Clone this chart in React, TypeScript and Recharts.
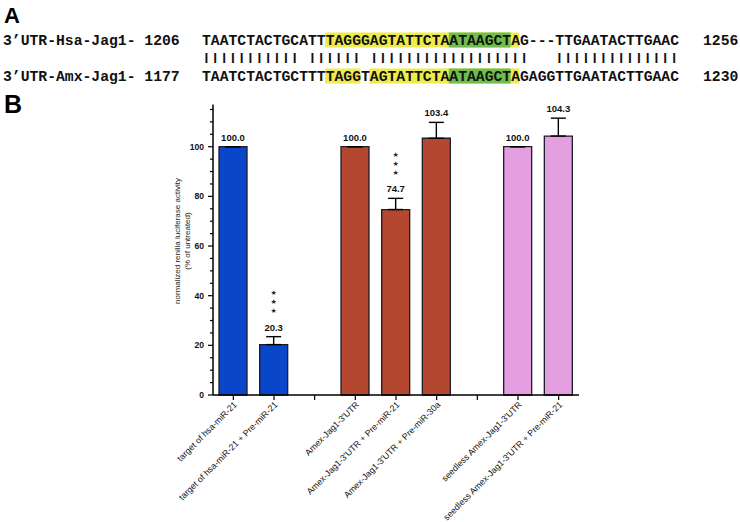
import React from 'react';
import { BarChart, Bar, XAxis, YAxis, ErrorBar, Cell, LabelList } from 'recharts';

// ---------- Panel A (sequence alignment) ----------
const hsaLabel = '3\u2019UTR-Hsa-Jag1- 1206';
const hsaSeq = 'TAATCTACTGCATTTAGGGAGTATTCTAATAAGCTAG---TTGAATACTTGAAC';
const hsaEnd = '1256';
const amxLabel = '3\u2019UTR-Amx-Jag1- 1177';
const amxSeq = 'TAATCTACTGCTTTTAGGTAGTATTCTAATAAGCTAGAGGTTGAATACTTGAAC';
const amxEnd = '1230';
const hsaYellow = [[14, 35]];
const hsaGreen = [[28, 34]];
const amxYellow = [[14, 17], [19, 35]];
const amxGreen = [[28, 34]];

// ---------- Panel B (bar chart) ----------
const categories = [
  'target of hsa-miR-21',
  'target of hsa-miR-21 + Pre-miR-21',
  '',
  "Amex-Jag1-3'UTR",
  "Amex-Jag1-3'UTR + Pre-miR-21",
  "Amex-Jag1-3'UTR + Pre-miR-30a",
  ' ',
  "seedless Amex-Jag1-3'UTR",
  "seedless Amex-Jag1-3'UTR + Pre-miR-21",
];
const activity: (number | null)[] = [100.0, 20.3, null, 100.0, 74.7, 103.4, null, 100.0, 104.3];
const upperError: (number | null)[] = [0, 3.2, null, 0, 4.5, 6.4, null, 0, 7.2];
const significance = ['', '***', '', '', '***', '', '', '', ''];
const barColors = ['#0a46c9', '#0a46c9', '#ffffff', '#b4472f', '#b4472f', '#b4472f', '#ffffff', '#e49fe0', '#e49fe0'];
const yTicks = [0, 5, 10, 15, 20, 25, 30, 35, 40, 45, 50, 55, 60, 65, 70, 75, 80, 85, 90, 95, 100, 105, 110, 115];
const yMajor = [0, 20, 40, 60, 80, 100];

const rows = categories.map((name, i) => ({
  name,
  value: activity[i],
  err: upperError[i] == null ? null : [0, upperError[i] as number],
  idx: i,
}));

const SANS = 'Liberation Sans, Arial, Helvetica, sans-serif';
const MONO = 'Liberation Mono, Courier New, monospace';
const CW = 8.83; // monospace advance at the chosen font size
const SEQ_X = 202;

const matchLine = hsaSeq
  .split('')
  .map((c, i) => (c !== '-' && c === amxSeq[i] ? '|' : ' '))
  .join('');

const HighlightRow = ({ ranges, color, top }: { ranges: number[][]; color: string; top: number }) => (
  <>
    {ranges.map(([a, b], k) => (
      <rect key={k} x={SEQ_X + a * CW - 0.5} y={top} width={(b - a + 1) * CW} height={15} fill={color} />
    ))}
  </>
);

const PanelA = () => (
  <svg width={740} height={522} style={{ position: 'absolute', left: 0, top: 0, pointerEvents: 'none' }}>
    <text x={4} y={23} fontFamily={SANS} fontWeight="bold" fontSize={22} fill="#000">A</text>
    <text x={4} y={113} fontFamily={SANS} fontWeight="bold" fontSize={25} fill="#000">B</text>
    <HighlightRow ranges={hsaYellow} color="#eeeb4e" top={32.5} />
    <HighlightRow ranges={hsaGreen} color="#6fbd4b" top={32.5} />
    <HighlightRow ranges={amxYellow} color="#eeeb4e" top={68.5} />
    <HighlightRow ranges={amxGreen} color="#6fbd4b" top={68.5} />
    <g fontFamily={MONO} fontSize={14.72} fontWeight="bold" fill="#111" style={{ whiteSpace: 'pre' }}>
      <text x={3} y={45} xmlSpace="preserve">{hsaLabel}</text>
      <text x={SEQ_X} y={45} xmlSpace="preserve">{hsaSeq}</text>
      <text x={703} y={45} xmlSpace="preserve">{hsaEnd}</text>
      <text transform={`translate(${SEQ_X},61) scale(1,0.72)`} xmlSpace="preserve">{matchLine}</text>
      <text x={3} y={81} xmlSpace="preserve">{amxLabel}</text>
      <text x={SEQ_X} y={81} xmlSpace="preserve">{amxSeq}</text>
      <text x={703} y={81} xmlSpace="preserve">{amxEnd}</text>
    </g>
  </svg>
);

const YTick = (props: any) => {
  const { x, y, payload } = props;
  const v = payload.value as number;
  const major = yMajor.includes(v);
  return (
    <g>
      <line x1={x - (major ? 5 : 3)} y1={y} x2={x} y2={y} stroke="#000" strokeWidth={1.2} />
      {major && (
        <text x={x - 9} y={y} dy="0.35em" textAnchor="end" fontFamily={SANS} fontWeight="bold" fontSize={8.6} fill="#111">
          {v}
        </text>
      )}
    </g>
  );
};

const XTick = (props: any) => {
  const { x, y, payload } = props;
  const label = String(payload.value).trim();
  if (!label) return null;
  return (
    <g transform={`translate(${x + 2},${y + 1})`}>
      <text transform="rotate(-45)" textAnchor="end" dy="0.35em" fontFamily={SANS} fontSize={8.8} fill="#111">
        {label}
      </text>
    </g>
  );
};

const BarLabel = (props: any) => {
  const { x, y, width, height, value } = props;
  const i = value as number;
  const v = activity[i];
  if (v == null) return null;
  const e = upperError[i] ?? 0;
  const ppu = height / v;
  const top = y - e * ppu;
  const base = top - 6;
  const cx = x + width / 2;
  const mid = base - 3.5;
  const stars = significance[i] ? significance[i].split('') : [];
  return (
    <g>
      <text x={cx} y={base} textAnchor="middle" fontFamily={SANS} fontWeight="bold" fontSize={9.5} fill="#111">
        {v.toFixed(1)}
      </text>
      {stars.map((_, k) => (
        <text key={k} x={cx} y={mid - 16 - k * 9} textAnchor="middle" dominantBaseline="central" fontFamily="DejaVu Sans, sans-serif" fontSize={7} fill="#222">
          {'\u2605'}
        </text>
      ))}
    </g>
  );
};

const YLabel = () => (
  <g fontFamily={SANS} fontSize={8} fill="#222">
    <text transform="translate(179.5,241) rotate(-90)" textAnchor="middle">normalized renilla luciferase activity</text>
    <text transform="translate(189.5,241) rotate(-90)" textAnchor="middle">(% of untreated)</text>
  </g>
);

export default function App() {
  return (
    <div style={{ position: 'fixed', left: 0, top: 0, width: 740, height: 522, background: '#fff' }}>
      <BarChart
        width={740}
        height={522}
        data={rows}
        margin={{ top: 104.5, right: 161, bottom: 0, left: 0 }}
        barSize={28}
        style={{ position: 'absolute', left: 0, top: 0 }}
      >
        <XAxis
          dataKey="name"
          height={127}
          interval={0}
          tickSize={5}
          tickMargin={2}
          axisLine={{ stroke: '#000', strokeWidth: 1.5 }}
          tickLine={{ stroke: '#000', strokeWidth: 1.2 }}
          tick={<XTick />}
        />
        <YAxis
          width={213}
          domain={[0, 117]}
          ticks={yTicks}
          interval={0}
          tickSize={0}
          tickMargin={0}
          tickLine={false}
          axisLine={{ stroke: '#000', strokeWidth: 1.5 }}
          tick={<YTick />}
          label={{ content: () => <YLabel /> }}
        />
        <Bar dataKey="value" stroke="#1c1c28" strokeWidth={1.3} isAnimationActive={false}>
          {rows.map((r, i) => (
            <Cell key={i} fill={barColors[i]} />
          ))}
          <ErrorBar dataKey="err" width={7.5} stroke="#000" strokeWidth={1.4} direction="y" />
          <LabelList dataKey="idx" content={<BarLabel />} />
        </Bar>
      </BarChart>
      <PanelA />
    </div>
  );
}
